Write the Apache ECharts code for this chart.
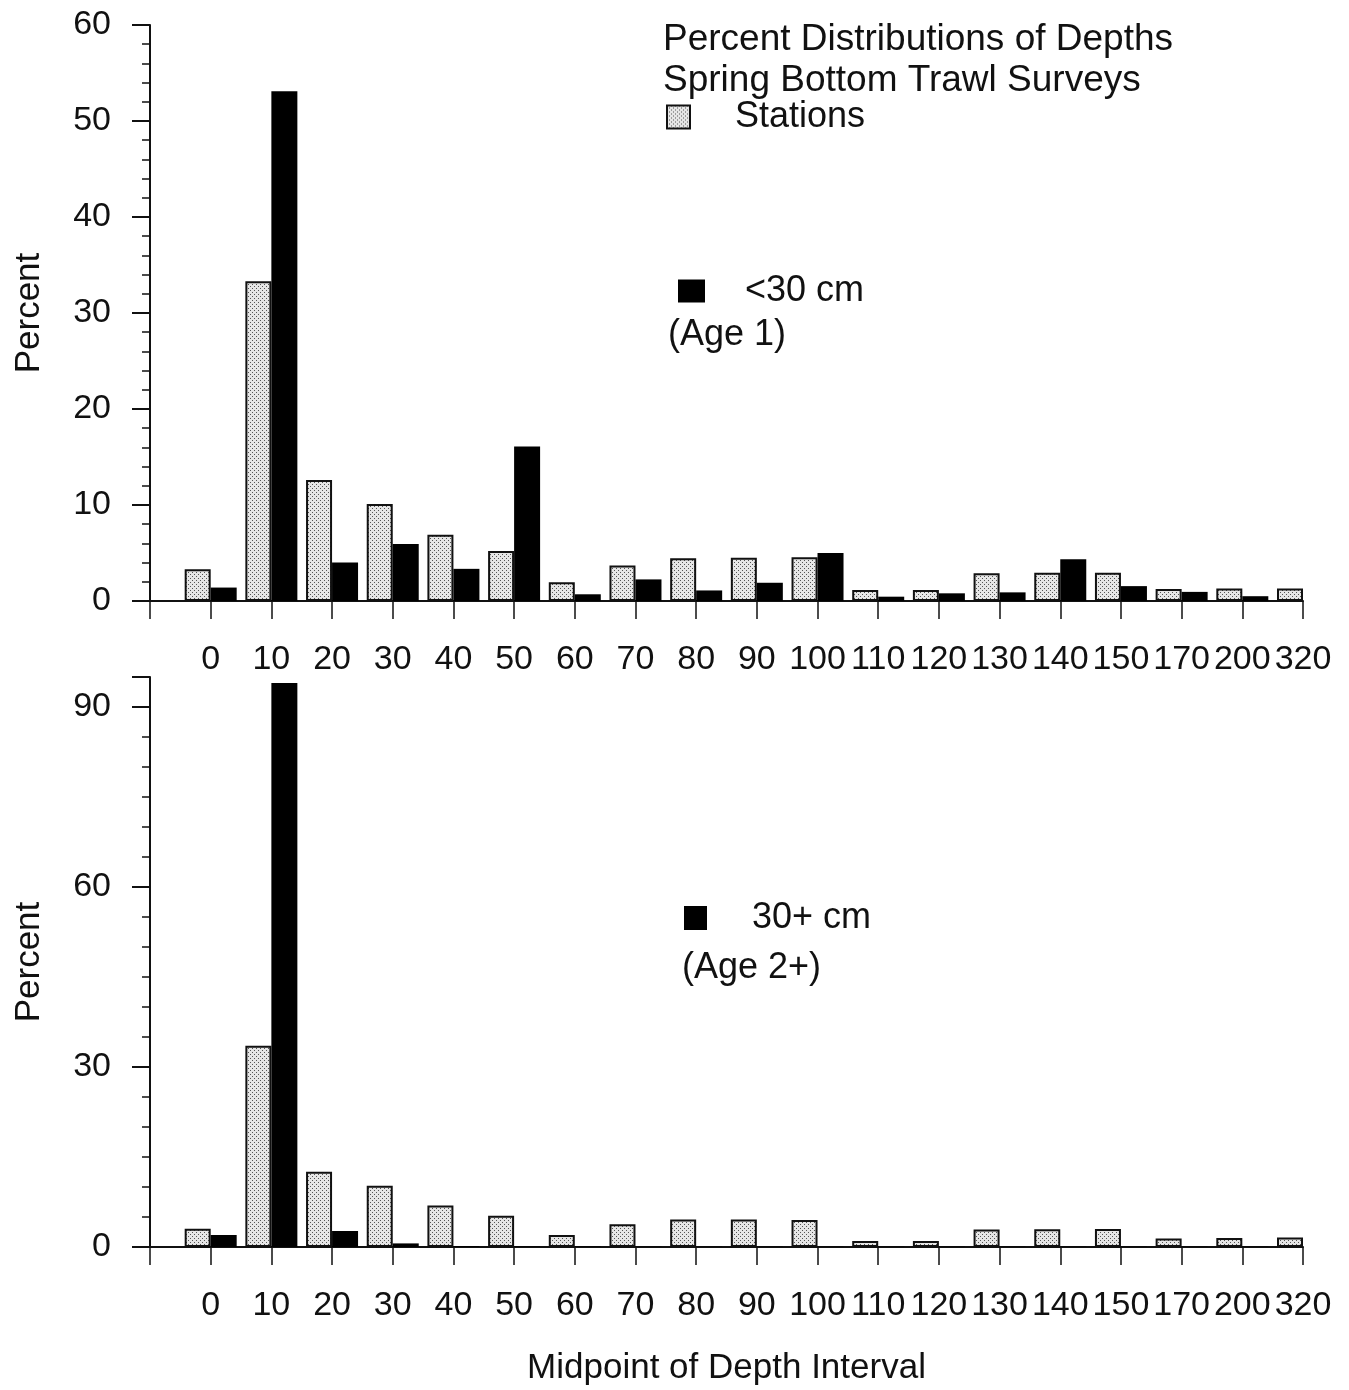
<!DOCTYPE html>
<html>
<head>
<meta charset="utf-8">
<script src="https://cdn.jsdelivr.net/npm/echarts@6/dist/echarts.min.js"></script>
<style>
html,body{margin:0;padding:0;background:#fff;}
#chart{width:1349px;height:1390px;}
</style>
</head>
<body>
<div id="chart"></div>
<script>
// Categories (first blank slot = axis start)
const categories = ['', '0', '10', '20', '30', '40', '50', '60', '70', '80', '90', '100', '110', '120', '130', '140', '150', '170', '200', '320'];
// Top panel
const stationsTop = [null, 3.3, 33.3, 12.6, 10.1, 6.9, 5.2, 1.95, 3.7, 4.45, 4.5, 4.55, 1.15, 1.15, 2.9, 2.95, 2.95, 1.25, 1.3, 1.3];
const under30cm = [null, 1.4, 53.1, 4.0, 5.95, 3.35, 16.1, 0.7, 2.25, 1.1, 1.9, 5.0, 0.45, 0.8, 0.9, 4.35, 1.55, 0.95, 0.5, 0];
// Bottom panel
const stationsBottom = [null, 3.05, 33.55, 12.55, 10.2, 6.9, 5.2, 2.0, 3.8, 4.6, 4.6, 4.5, 1.0, 1.0, 2.9, 2.95, 3.0, 1.4, 1.5, 1.6];
const over30cm = [null, 2.0, 94, 2.67, 0.6, 0.15, 0.1, 0.1, 0.05, 0.05, 0.05, 0.05, 0.05, 0.05, 0.05, 0.05, 0.05, 0.05, 0.05, 0];
// Y tick settings
const topYTicks = {min: 0, max: 60, interval: 10};
const bottomYTicks = {min: 0, max: 95, interval: 30};

const FONT = '"Liberation Sans", Arial, Helvetica, sans-serif';
const INK = '#111';

function makePattern() {
  const c = document.createElement('canvas');
  c.width = 4; c.height = 4;
  const g = c.getContext('2d');
  g.fillStyle = '#e6e6e6'; g.fillRect(0, 0, 4, 4);
  g.fillStyle = '#555555';
  g.fillRect(0, 0, 1, 1); g.fillRect(2, 2, 1, 1);
  return c;
}
const dotted = {image: makePattern(), repeat: 'repeat'};

const chart = echarts.init(document.getElementById('chart'), null, {renderer: 'canvas'});

function xAxisCfg(gridIndex, withName) {
  return {
    type: 'category', gridIndex: gridIndex, data: categories, boundaryGap: false,
    axisLine: {show: true, lineStyle: {color: INK, width: 2}},
    axisTick: {show: true, inside: false, length: 18, interval: 0, lineStyle: {color: INK, width: 1.5}},
    axisLabel: {show: true, interval: 0, margin: 42, fontSize: 34, color: INK, fontFamily: FONT},
    splitLine: {show: false},
    name: withName ? 'Midpoint of Depth Interval' : '',
    nameLocation: 'middle', nameGap: 104,
    nameTextStyle: {fontSize: 35, color: INK, fontFamily: FONT}
  };
}
function yAxisCfg(gridIndex, t, minorSplit) {
  return {
    type: 'value', gridIndex: gridIndex, min: t.min, max: t.max, interval: t.interval,
    axisLine: {show: true, lineStyle: {color: INK, width: 2}},
    axisTick: {show: true, inside: false, length: 18, lineStyle: {color: INK, width: 2}},
    minorTick: {show: true, splitNumber: minorSplit, length: 8, lineStyle: {color: INK, width: 1.5}},
    axisLabel: {margin: 39, fontSize: 34, color: INK, fontFamily: FONT,
      formatter: function (v) { return (v % t.interval === 0) ? String(v) : ''; }},
    splitLine: {show: false},
    name: 'Percent', nameLocation: 'middle', nameGap: 103, nameRotate: 90,
    nameTextStyle: {fontSize: 35, color: INK, fontFamily: FONT}
  };
}

const stationStyle = {color: dotted, borderColor: INK, borderWidth: 2};
const blackStyle = {color: '#000', borderWidth: 0};

const option = {
  backgroundColor: '#fff',
  animation: false,
  textStyle: {fontFamily: FONT},
  title: [
    {text: 'Percent Distributions of Depths\nSpring Bottom Trawl Surveys', left: 658, top: 14,
     textStyle: {fontSize: 37, fontWeight: 'normal', color: INK, fontFamily: FONT, lineHeight: 41}},
    {text: '(Age 1)', left: 663, top: 310,
     textStyle: {fontSize: 36, fontWeight: 'normal', color: INK, fontFamily: FONT, lineHeight: 41}},
    {text: '(Age 2+)', left: 677, top: 943,
     textStyle: {fontSize: 36, fontWeight: 'normal', color: INK, fontFamily: FONT, lineHeight: 41}}
  ],
  legend: [
    {data: ['Stations'], left: 661, top: 94, itemWidth: 23, itemHeight: 23, icon: 'rect', selectedMode: false,
     textStyle: {fontSize: 36, color: INK, fontFamily: FONT, padding: [0, 0, 0, 40]}},
    {data: ['<30 cm'], left: 673, top: 268, itemWidth: 27, itemHeight: 23, icon: 'rect', selectedMode: false,
     textStyle: {fontSize: 36, color: INK, fontFamily: FONT, padding: [0, 0, 0, 35]}},
    {data: ['30+ cm'], left: 679, top: 895, itemWidth: 23, itemHeight: 24, icon: 'rect', selectedMode: false,
     textStyle: {fontSize: 36, color: INK, fontFamily: FONT, padding: [0, 0, 0, 40]}}
  ],
  grid: [
    {left: 150, right: 46, top: 25, height: 576},
    {left: 150, right: 46, top: 677, height: 570}
  ],
  xAxis: [xAxisCfg(0, false), xAxisCfg(1, true)],
  yAxis: [yAxisCfg(0, topYTicks, 5), yAxisCfg(1, bottomYTicks, 6)],
  series: [
    {name: 'Stations', type: 'bar', xAxisIndex: 0, yAxisIndex: 0, data: stationsTop,
     barWidth: 26, barGap: '0%', itemStyle: stationStyle},
    {name: '<30 cm', type: 'bar', xAxisIndex: 0, yAxisIndex: 0, data: under30cm,
     barWidth: 26, barGap: '0%', itemStyle: blackStyle},
    {name: 'Stations', type: 'bar', xAxisIndex: 1, yAxisIndex: 1, data: stationsBottom,
     barWidth: 26, barGap: '0%', itemStyle: stationStyle},
    {name: '30+ cm', type: 'bar', xAxisIndex: 1, yAxisIndex: 1, data: over30cm,
     barWidth: 26, barGap: '0%', itemStyle: blackStyle}
  ]
};
chart.setOption(option);
</script>
</body>
</html>
